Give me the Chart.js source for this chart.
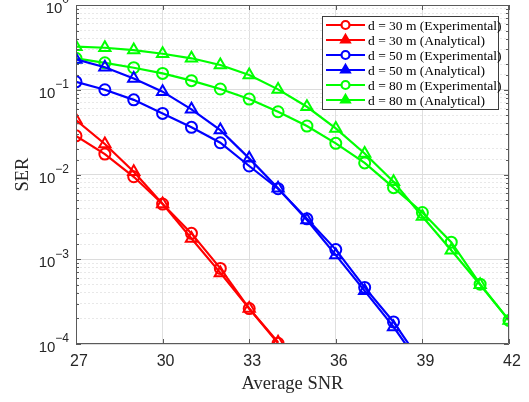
<!DOCTYPE html>
<html>
<head>
<meta charset="utf-8">
<script src="https://cdn.jsdelivr.net/npm/chart.js@4/dist/chart.umd.min.js"></script>
<style>
  html, body { margin: 0; padding: 0; background: #fff; }
  #wrap { width: 529px; height: 402px; }
</style>
</head>
<body>
<div id="wrap"><canvas id="grafica"></canvas></div>
<script>
// Eje X: SNR promedio
const snr = [27, 28, 29, 30, 31, 32, 33, 34, 35, 36, 37, 38, 39, 40, 41, 42];
const xTicks = [27, 30, 33, 36, 39, 42];

// SER
const d30Exp = [0.0286, 0.0174, 0.0094, 0.00448, 0.00202, 0.00078, 0.000262, 0.000102];
const d30Ana = [0.0439, 0.0229, 0.0108, 0.0045, 0.00176, 0.00069, 0.000262, 0.000105];
const d50Exp = [0.124, 0.100, 0.076, 0.0526, 0.036, 0.0237, 0.0126, 0.0068, 0.0030, 0.0013, 0.000465, 0.000182, 0.000058];
const d50Ana = [0.228, 0.184, 0.136, 0.095, 0.0587, 0.0334, 0.0155, 0.0069, 0.0029, 0.00112, 0.000424, 0.000159, 0.000052];
const d80Exp = [0.235, 0.208, 0.182, 0.156, 0.128, 0.102, 0.0777, 0.055, 0.0373, 0.0233, 0.0137, 0.0070, 0.00356, 0.00159, 0.000508, 0.00019];
const d80Ana = [0.322, 0.313, 0.294, 0.266, 0.235, 0.196, 0.149, 0.101, 0.063, 0.035, 0.0177, 0.0082, 0.0032, 0.00128, 0.0005, 0.00019];

const series = [
  { label: 'd = 30 m (Experimental)', data: d30Exp, color: '#ff0000', marker: 'circle' },
  { label: 'd = 30 m (Analytical)', data: d30Ana, color: '#ff0000', marker: 'triangle' },
  { label: 'd = 50 m (Experimental)', data: d50Exp, color: '#0000ff', marker: 'circle' },
  { label: 'd = 50 m (Analytical)', data: d50Ana, color: '#0000ff', marker: 'triangle' },
  { label: 'd = 80 m (Experimental)', data: d80Exp, color: '#00ff00', marker: 'circle' },
  { label: 'd = 80 m (Analytical)', data: d80Ana, color: '#00ff00', marker: 'triangle' },
];

function esMayor(v) {
  const l = Math.log10(v);
  return Math.abs(l - Math.round(l)) < 1e-6;
}

// Marco, marcas internas, etiquetas 10^n y leyenda
const marcoPlugin = {
  id: 'marco',
  afterDraw(chart) {
    const { ctx, chartArea: a, scales } = chart;
    ctx.save();
    ctx.strokeStyle = '#5a5a5a';
    ctx.lineWidth = 1;
    ctx.beginPath();
    ctx.rect(a.left + 0.5, a.top + 0.5, a.right - a.left - 1, a.bottom - a.top - 1);
    ctx.stroke();

    ctx.beginPath();
    scales.x.ticks.forEach(t => {
      const px = Math.round(scales.x.getPixelForValue(t.value)) + 0.5;
      ctx.moveTo(px, a.bottom); ctx.lineTo(px, a.bottom - 5);
      ctx.moveTo(px, a.top); ctx.lineTo(px, a.top + 5);
    });
    scales.y.ticks.forEach(t => {
      const py = Math.round(scales.y.getPixelForValue(t.value)) + 0.5;
      const len = esMayor(t.value) ? 5 : 3;
      ctx.moveTo(a.left, py); ctx.lineTo(a.left + len, py);
      ctx.moveTo(a.right, py); ctx.lineTo(a.right - len, py);
    });
    ctx.stroke();

    // etiquetas del eje y
    ctx.fillStyle = '#262626';
    ctx.textBaseline = 'middle';
    scales.y.ticks.forEach(t => {
      if (!esMayor(t.value)) return;
      const py = scales.y.getPixelForValue(t.value);
      const exp = String(Math.round(Math.log10(t.value))).replace('-', '\u2212');
      ctx.font = '12px "Liberation Sans", Arial, sans-serif';
      ctx.textAlign = 'right';
      const w = ctx.measureText(exp).width;
      ctx.fillText(exp, 69, py - 5);
      ctx.font = '15px "Liberation Sans", Arial, sans-serif';
      ctx.fillText('10', 69 - w, py + 4);
    });

    // leyenda
    const lx = 322, ly = 16, lw = 176, lh = 93;
    ctx.fillStyle = '#fff';
    ctx.fillRect(lx, ly, lw, lh);
    ctx.strokeStyle = '#3c3c3c';
    ctx.strokeRect(lx + 0.5, ly + 0.5, lw, lh);
    ctx.textAlign = 'left';
    chart.data.datasets.forEach((ds, i) => {
      const y = 25 + i * 15;
      ctx.strokeStyle = ds.borderColor;
      ctx.lineWidth = 2.2;
      ctx.beginPath();
      ctx.moveTo(326, y); ctx.lineTo(365, y);
      ctx.stroke();
      ctx.fillStyle = ds.pointStyle === 'triangle' ? ds.borderColor : '#fff';
      Chart.helpers.drawPoint(ctx, {
        pointStyle: ds.pointStyle, radius: ds.pointStyle === 'triangle' ? 5 : 4,
        borderWidth: 2, rotation: 0
      }, 345.5, y);
      ctx.fillStyle = '#000';
      ctx.font = '13.5px "Liberation Serif", "Times New Roman", serif';
      ctx.fillText(ds.label, 368, y + 1);
    });
    ctx.restore();
  }
};

new Chart(document.getElementById('grafica'), {
  type: 'line',
  data: {
    datasets: series.map(s => ({
      label: s.label,
      data: s.data.map((v, i) => ({ x: snr[i], y: v })),
      borderColor: s.color,
      backgroundColor: s.color,
      borderWidth: 2.2,
      pointStyle: s.marker,
      pointRadius: s.marker === 'triangle' ? 6.5 : 5.5,
      pointBorderWidth: 2,
      pointBackgroundColor: 'rgba(255,255,255,0)',
      pointBorderColor: s.color,
      tension: 0,
      fill: false,
    })),
  },
  options: {
    responsive: true,
    maintainAspectRatio: false,
    animation: false,
    layout: { autoPadding: false, padding: { top: 5, right: 20, left: 0, bottom: 0 } },
    plugins: {
      legend: { display: false },
      tooltip: { enabled: false },
    },
    scales: {
      x: {
        type: 'linear',
        min: 27,
        max: 42,
        afterBuildTicks: scale => { scale.ticks = xTicks.map(v => ({ value: v })); },
        afterFit: scale => { scale.height = 58; },
        grid: { color: '#dfdfdf', drawTicks: false },
        border: { display: false },
        ticks: {
          padding: 8,
          labelOffset: 3,
          color: '#262626',
          font: { family: '"Liberation Sans", Arial, sans-serif', size: 16 },
        },
        title: {
          display: true,
          text: 'Average SNR',
          color: '#262626',
          padding: { top: 0, bottom: 7 },
          font: { family: '"Liberation Serif", "Times New Roman", serif', size: 18.5 },
        },
      },
      y: {
        type: 'logarithmic',
        min: 1e-4,
        max: 1,
        afterFit: scale => { scale.width = 76; },
        grid: {
          drawTicks: false,
          color: ctx => (ctx.tick && esMayor(ctx.tick.value)) ? '#dcdcdc' : '#e8e8e8',
        },
        border: {
          display: false,
          dash: ctx => (ctx.tick && esMayor(ctx.tick.value)) ? [] : [2, 2],
        },
        ticks: { display: false, autoSkip: false },
        title: {
          display: true,
          text: 'SER',
          color: '#262626',
          padding: { top: 12, bottom: 0 },
          font: { family: '"Liberation Serif", "Times New Roman", serif', size: 18.5 },
        },
      },
    },
  },
  plugins: [marcoPlugin],
});
</script>
</body>
</html>
